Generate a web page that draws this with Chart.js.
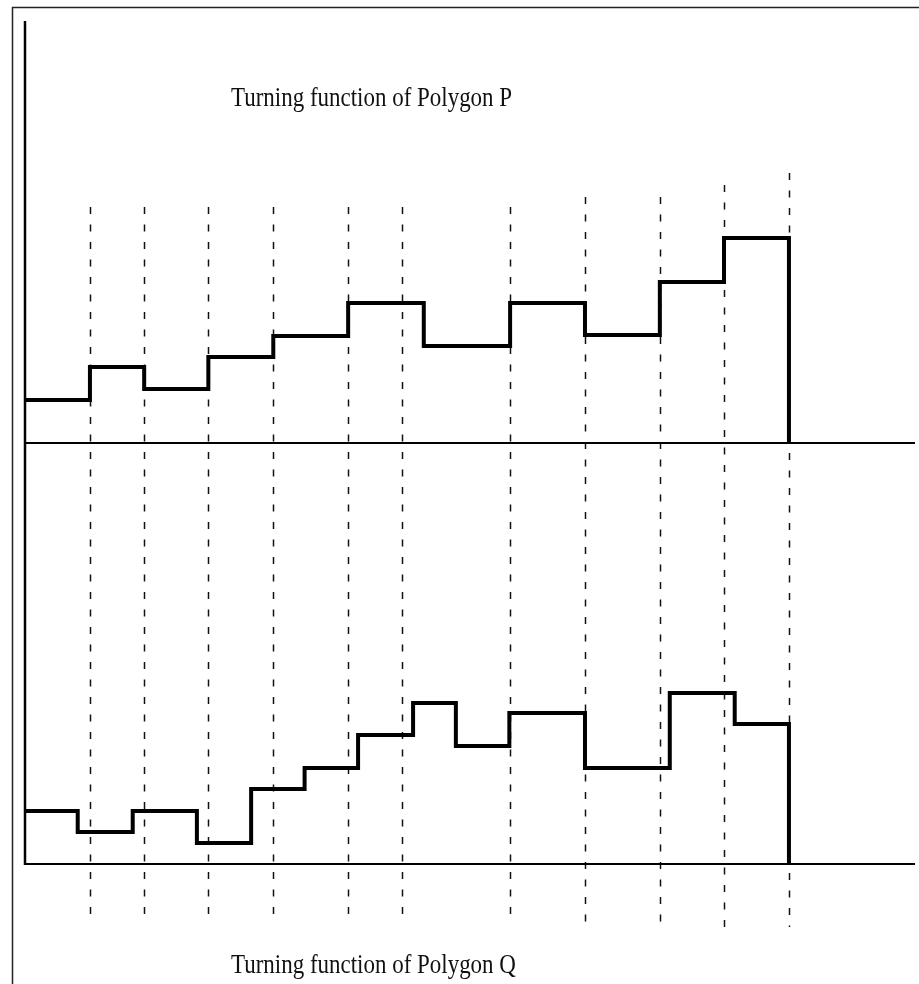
<!DOCTYPE html>
<html>
<head>
<meta charset="utf-8">
<title>Turning functions</title>
<script src="https://cdn.jsdelivr.net/npm/chart.js@4.4.1/dist/chart.umd.min.js"></script>
<style>
  html, body { margin: 0; padding: 0; background: #fff; }
  #wrap { position: relative; width: 919px; height: 984px; }
</style>
</head>
<body>
<div id="wrap"><canvas id="c" width="919" height="984"></canvas></div>
<script>
// Arc-length breakpoints (fraction of perimeter) and the turning angle that starts at each one
const pBreaks = [0, 0.085, 0.156, 0.240, 0.325, 0.423, 0.522, 0.635, 0.733, 0.831, 0.915, 1.0];
const pAngles = [0.86, 1.52, 1.08, 1.72, 2.14, 2.80, 1.94, 2.80, 2.16, 3.22, 4.10, 0];
const qBreaks = [0, 0.069, 0.141, 0.225, 0.296, 0.366, 0.436, 0.508, 0.564, 0.634, 0.733, 0.844, 0.929, 1.0];
const qAngles = [1.06, 0.64, 1.06, 0.42, 1.50, 1.92, 2.58, 3.22, 2.36, 3.02, 1.92, 3.42, 2.80, 0];
// Vertical guides through the vertices
const guideLines = [0.085, 0.156, 0.240, 0.325, 0.423, 0.493, 0.635, 0.733, 0.831, 0.915, 1.0];
const titleP = 'Turning function of Polygon P';
const titleQ = 'Turning function of Polygon Q';

const toPoints = (xs, ys) => xs.map((x, i) => ({ x: x, y: ys[i] }));

// Frame, axes, dashed guides and captions
const decorations = {
  id: 'decorations',
  beforeDatasetsDraw(chart, args, opts) {
    const { ctx, chartArea: a, scales } = chart;
    const x = scales.x, yP = scales.yP, yQ = scales.yQ;
    ctx.save();
    // page frame
    ctx.strokeStyle = '#222';
    ctx.lineWidth = 1.5;
    ctx.beginPath();
    ctx.moveTo(12.5, 984); ctx.lineTo(12.5, 7.5); ctx.lineTo(919, 7.5);
    ctx.stroke();

    // dashed vertical guides
    ctx.strokeStyle = '#111';
    ctx.lineWidth = 1.5;
    ctx.setLineDash([7, 10.5]);
    guideLines.forEach((g, i) => {
      const px = Math.round(x.getPixelForValue(g)) + 0.5;
      ctx.beginPath();
      ctx.moveTo(px, yP.getPixelForValue(opts.tops[i]));
      ctx.lineTo(px, yQ.getPixelForValue(opts.bottoms[i]));
      ctx.stroke();
    });
    ctx.setLineDash([]);

    // baselines of the two panels
    ctx.strokeStyle = '#000';
    ctx.lineWidth = 2;
    [yP.getPixelForValue(0), yQ.getPixelForValue(0)].forEach(py => {
      ctx.beginPath();
      ctx.moveTo(a.left, py); ctx.lineTo(a.right, py);
      ctx.stroke();
    });
    // vertical axis
    ctx.lineWidth = 2.5;
    ctx.beginPath();
    ctx.moveTo(a.left, a.top); ctx.lineTo(a.left, yQ.getPixelForValue(0) + 1);
    ctx.stroke();
    ctx.restore();
  },
  afterDraw(chart, args, opts) {
    const ctx = chart.ctx;
    ctx.save();
    ctx.fillStyle = '#111';
    ctx.font = '28px "Liberation Serif", "Times New Roman", serif';
    ctx.textBaseline = 'alphabetic';
    [[titleP, opts.titleP], [titleQ, opts.titleQ]].forEach(([t, pos]) => {
      ctx.save();
      ctx.translate(pos.x, pos.y);
      ctx.scale(0.82, 1);
      ctx.fillText(t, 0, 0);
      ctx.restore();
    });
    ctx.restore();
  }
};

const lineStyle = {
  borderColor: '#000',
  borderWidth: 4,
  stepped: 'before',
  pointRadius: 0,
  fill: false,
  borderJoinStyle: 'miter',
  borderCapStyle: 'butt',
  clip: false
};

new Chart(document.getElementById('c'), {
  type: 'line',
  data: {
    datasets: [
      Object.assign({ label: 'Polygon P', data: toPoints(pBreaks, pAngles), yAxisID: 'yP' }, lineStyle),
      Object.assign({ label: 'Polygon Q', data: toPoints(qBreaks, qAngles), yAxisID: 'yQ' }, lineStyle)
    ]
  },
  options: {
    responsive: false,
    animation: false,
    devicePixelRatio: 1,
    layout: { padding: { left: 25, right: 4, top: 21, bottom: 120 } },
    scales: {
      x: { type: 'linear', min: 0, max: 1.165, display: false },
      yP: { type: 'linear', min: -8.42, max: 8.44, display: false },
      yQ: { type: 'linear', min: 0, max: 16.86, display: false }
    },
    plugins: {
      legend: { display: false },
      tooltip: { enabled: false },
      decorations: {
        tops: [4.72, 4.72, 4.72, 4.72, 4.72, 4.72, 4.72, 4.92, 4.92, 5.16, 5.40],
        bottoms: [-1.16, -1.16, -1.16, -1.16, -1.16, -1.16, -1.16, -1.32, -1.32, -1.32, -1.26],
        titleP: { x: 231, y: 106 },
        titleQ: { x: 231, y: 973 }
      }
    }
  },
  plugins: [decorations]
});
</script>
</body>
</html>
